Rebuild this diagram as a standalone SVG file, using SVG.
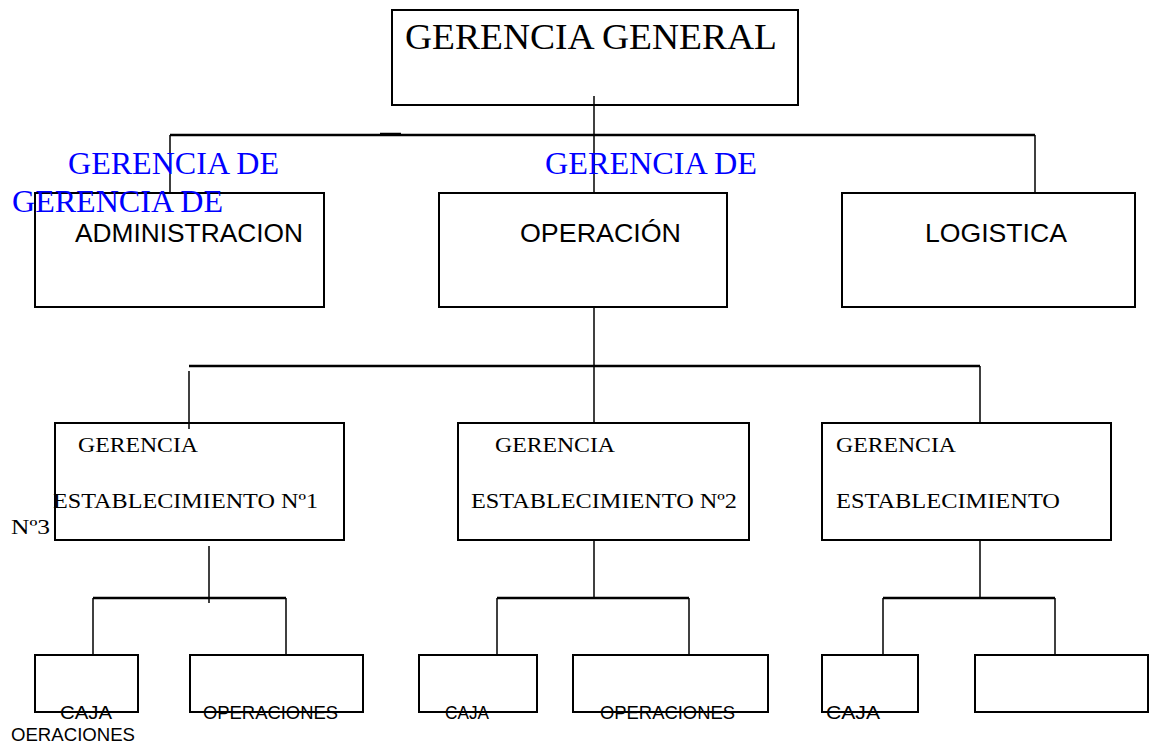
<svg xmlns="http://www.w3.org/2000/svg" width="1152" height="747" viewBox="0 0 1152 747">
<style>
rect{fill:none;stroke:#000;stroke-width:2}
.c line{stroke:#000;stroke-width:1.5}
.c .t{stroke-width:2.5}
.serif{font-family:"Liberation Serif","Times New Roman",serif;fill:#000}
.sans{font-family:"Liberation Sans",Arial,sans-serif;fill:#000}
.blue{font-family:"Liberation Serif","Times New Roman",serif;fill:#0000ff;font-size:32px}
</style>
<rect x="0" y="0" width="1152" height="747" style="fill:#fff;stroke:none"/>
<g class="c">
<line x1="594" y1="96" x2="594" y2="193"/>
<line class="t" x1="170" y1="135" x2="1035" y2="135"/>
<line class="t" x1="380" y1="134" x2="401" y2="134"/>
<line x1="170" y1="135" x2="170" y2="193"/>
<line x1="1035" y1="135" x2="1035" y2="193"/>
<line x1="594" y1="307" x2="594" y2="423"/>
<line class="t" x1="189" y1="366" x2="980" y2="366"/>
<line x1="189" y1="371" x2="189" y2="429"/>
<line x1="980" y1="366" x2="980" y2="423"/>
<line x1="209" y1="546" x2="209" y2="603"/>
<line x1="594" y1="540" x2="594" y2="598"/>
<line x1="980" y1="540" x2="980" y2="598"/>
<line class="t" x1="93" y1="598" x2="286" y2="598"/>
<line x1="93" y1="598" x2="93" y2="655"/>
<line x1="286" y1="598" x2="286" y2="655"/>
<line class="t" x1="497" y1="598" x2="689" y2="598"/>
<line x1="497" y1="598" x2="497" y2="655"/>
<line x1="689" y1="598" x2="689" y2="655"/>
<line class="t" x1="883" y1="598" x2="1055" y2="598"/>
<line x1="883" y1="598" x2="883" y2="655"/>
<line x1="1055" y1="598" x2="1055" y2="655"/>
</g>
<g id="gerencia-general">
<rect x="392" y="10" width="406" height="95"/>
<text class="serif" x="405" y="49" font-size="36" textLength="372" lengthAdjust="spacingAndGlyphs">GERENCIA GENERAL</text>
</g>
<g id="administracion">
<rect x="35" y="193" width="289" height="114"/>
<text class="sans" x="75" y="242" font-size="26" textLength="228" lengthAdjust="spacingAndGlyphs">ADMINISTRACION</text>
</g>
<g id="operacion">
<rect x="439" y="193" width="288" height="114"/>
<text class="sans" x="520" y="242" font-size="26" textLength="161" lengthAdjust="spacingAndGlyphs">OPERACIÓN</text>
</g>
<g id="logistica">
<rect x="842" y="193" width="293" height="114"/>
<text class="sans" x="925" y="242" font-size="26" textLength="142" lengthAdjust="spacingAndGlyphs">LOGISTICA</text>
</g>
<g id="blue-labels">
<text class="blue" x="68" y="174" textLength="211" lengthAdjust="spacingAndGlyphs">GERENCIA DE</text>
<text class="blue" x="545" y="174" textLength="212" lengthAdjust="spacingAndGlyphs">GERENCIA DE</text>
<text class="blue" x="12" y="212" textLength="211" lengthAdjust="spacingAndGlyphs">GERENCIA DE</text>
</g>
<g id="establecimiento-1">
<rect x="55" y="423" width="289" height="117"/>
<text class="serif" x="78" y="452" font-size="22" textLength="120" lengthAdjust="spacingAndGlyphs">GERENCIA</text>
<text class="serif" x="53" y="508" font-size="22" textLength="265" lengthAdjust="spacingAndGlyphs">ESTABLECIMIENTO Nº1</text>
</g>
<text class="serif" x="11" y="534" font-size="22" textLength="39" lengthAdjust="spacingAndGlyphs">Nº3</text>
<g id="establecimiento-2">
<rect x="458" y="423" width="291" height="117"/>
<text class="serif" x="495" y="452" font-size="22" textLength="120" lengthAdjust="spacingAndGlyphs">GERENCIA</text>
<text class="serif" x="471" y="508" font-size="22" textLength="266" lengthAdjust="spacingAndGlyphs">ESTABLECIMIENTO Nº2</text>
</g>
<g id="establecimiento-3">
<rect x="822" y="423" width="289" height="117"/>
<text class="serif" x="836" y="452" font-size="22" textLength="120" lengthAdjust="spacingAndGlyphs">GERENCIA</text>
<text class="serif" x="836" y="508" font-size="22" textLength="224" lengthAdjust="spacingAndGlyphs">ESTABLECIMIENTO</text>
</g>
<g id="caja-1">
<rect x="35" y="655" width="103" height="57"/>
<text class="sans" x="60" y="719" font-size="18" textLength="52" lengthAdjust="spacingAndGlyphs">CAJA</text>
</g>
<text class="sans" x="11" y="741" font-size="18" textLength="124" lengthAdjust="spacingAndGlyphs">OERACIONES</text>
<g id="operaciones-1">
<rect x="190" y="655" width="173" height="57"/>
<text class="sans" x="203" y="719" font-size="18" textLength="135" lengthAdjust="spacingAndGlyphs">OPERACIONES</text>
</g>
<g id="caja-2">
<rect x="419" y="655" width="118" height="57"/>
<text class="sans" x="445" y="719" font-size="18" textLength="44" lengthAdjust="spacingAndGlyphs">CAJA</text>
</g>
<g id="operaciones-2">
<rect x="573" y="655" width="195" height="57"/>
<text class="sans" x="600" y="719" font-size="18" textLength="135" lengthAdjust="spacingAndGlyphs">OPERACIONES</text>
</g>
<g id="caja-3">
<rect x="822" y="655" width="96" height="57"/>
<text class="sans" x="826" y="719" font-size="18" textLength="54" lengthAdjust="spacingAndGlyphs">CAJA</text>
</g>
<g id="empty-box">
<rect x="975" y="655" width="173" height="57"/>
</g>
</svg>
